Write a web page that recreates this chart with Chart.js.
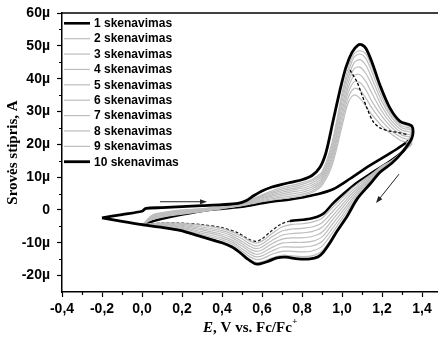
<!DOCTYPE html>
<html>
<head>
<meta charset="utf-8">
<script src="https://cdn.jsdelivr.net/npm/chart.js@4.4.1/dist/chart.umd.min.js"></script>
<style>
  html, body { margin: 0; padding: 0; background: #fff; }
  #wrap { width: 438px; height: 337px; }
</style>
</head>
<body>
<div id="wrap"><canvas id="cvChart" width="438" height="337"></canvas></div>
<script>
// scan names, legend order
const scanLabels = ['1 skenavimas', '2 skenavimas', '3 skenavimas', '4 skenavimas', '5 skenavimas',
                    '6 skenavimas', '7 skenavimas', '8 skenavimas', '9 skenavimas', '10 skenavimas'];

// 1st scan (inner black loop), E in V, I in µA
const scan1E = [0.00, 0.05, 0.10, 0.20, 0.30, 0.40, 0.50, 0.58, 0.655, 0.74, 0.80, 0.87, 0.955, 1.04, 1.12, 1.20, 1.28, 1.34, 1.35,
                1.34, 1.305, 1.24, 1.155, 1.075, 1.015, 0.955, 0.905, 0.84, 0.74, 0.69, 0.64, 0.60, 0.57, 0.53, 0.48, 0.40, 0.30, 0.19, 0.10, 0.00];
const scan1I = [-4.5, -3.5, -2.7, -1.4, -0.3, 0.4, 1.0, 1.8, 2.6, 3.2, 3.8, 4.7, 6.3, 9.5, 12.8, 15.8, 18.8, 21.5, 23.0,
                20.5, 17.8, 14.8, 11.5, 8.3, 5.3, 2.0, -1.2, -2.7, -3.4, -4.5, -6.8, -8.8, -9.6, -8.8, -7.0, -5.4, -4.5, -4.0, -4.0, -4.5];

// scans 2..9 share one potential grid (forward to 1.35 V, then back to 0 V)
const greyE = [0.00, 0.05, 0.10, 0.20, 0.30, 0.40, 0.50, 0.55, 0.60, 0.65, 0.70, 0.75, 0.80, 0.85, 0.90, 0.95, 1.00, 1.03, 1.06, 1.09, 1.12, 1.15, 1.20, 1.25, 1.30, 1.35,
               1.30, 1.25, 1.20, 1.15, 1.10, 1.05, 1.00, 0.95, 0.90, 0.85, 0.80, 0.75, 0.70, 0.65, 0.60, 0.57, 0.54, 0.50, 0.45, 0.40, 0.30, 0.20, 0.10, 0.00];
const scan2I = [-4.5, -3.0, -2.2, -1.3, -0.5, 0.4, 1.3, 1.9, 2.5, 3.0, 3.4, 3.8, 4.3, 5.3, 7.5, 13.5, 25.5, 32.5, 35.0, 34.0, 31.5, 29.0, 25.5, 23.0, 21.0, 20.2,
                17.6, 15.1, 13.4, 11.0, 8.9, 6.6, 3.6, 0.6, -2.5, -3.7, -4.2, -4.4, -5.2, -7.2, -9.5, -10.1, -9.5, -8.1, -6.7, -5.7, -4.7, -4.1, -4.0, -4.5];
const scan3I = [-4.5, -2.8, -2.0, -1.1, -0.4, 0.5, 1.4, 2.1, 2.8, 3.4, 3.9, 4.3, 4.8, 5.8, 8.1, 14.5, 27.0, 34.0, 37.0, 36.5, 34.0, 31.0, 27.0, 24.0, 22.0, 21.0,
                17.6, 15.0, 13.2, 10.7, 8.4, 5.8, 2.6, -0.7, -3.9, -5.2, -5.6, -5.8, -6.4, -8.2, -10.4, -11.0, -10.3, -8.8, -7.3, -6.3, -5.2, -4.4, -4.2, -4.5];
const scan4I = [-4.6, -2.6, -1.8, -0.9, -0.2, 0.6, 1.5, 2.3, 3.1, 3.8, 4.4, 4.9, 5.4, 6.4, 8.7, 15.5, 28.5, 35.5, 39.0, 38.8, 36.5, 33.0, 28.5, 25.0, 22.8, 21.8,
                17.5, 14.9, 13.0, 10.4, 7.8, 5.0, 1.5, -2.0, -5.3, -6.6, -7.0, -7.2, -7.7, -9.3, -11.3, -11.8, -11.1, -9.6, -7.9, -6.8, -5.7, -4.7, -4.4, -4.6];
const scan5I = [-4.6, -2.4, -1.6, -0.7, 0.0, 0.7, 1.6, 2.5, 3.4, 4.2, 4.9, 5.5, 6.0, 7.0, 9.3, 16.5, 30.0, 37.0, 41.0, 41.2, 39.0, 35.5, 30.0, 26.0, 23.5, 22.5,
                17.5, 14.8, 12.8, 10.1, 7.3, 4.2, 0.5, -3.2, -6.8, -8.1, -8.5, -8.5, -8.9, -10.3, -12.2, -12.6, -11.9, -10.3, -8.5, -7.4, -6.1, -5.0, -4.5, -4.6];
const scan6I = [-4.7, -2.2, -1.4, -0.5, 0.1, 0.8, 1.7, 2.7, 3.7, 4.6, 5.4, 6.0, 6.6, 7.6, 9.9, 17.5, 31.5, 38.5, 43.0, 43.5, 41.5, 38.0, 31.5, 27.0, 24.3, 23.3,
                17.5, 14.7, 12.6, 9.7, 6.8, 3.4, -0.6, -4.5, -8.2, -9.6, -9.9, -9.9, -10.1, -11.4, -13.1, -13.5, -12.7, -11.0, -9.2, -8.0, -6.6, -5.3, -4.7, -4.7];
const scan7I = [-4.7, -2.0, -1.2, -0.3, 0.2, 0.9, 1.8, 2.9, 4.0, 5.0, 5.9, 6.5, 7.2, 8.2, 10.5, 18.5, 33.0, 40.0, 44.8, 45.8, 44.0, 40.0, 33.0, 28.0, 25.0, 24.0,
                17.4, 14.6, 12.45, 9.4, 6.3, 2.6, -1.7, -5.8, -9.6, -11.0, -11.3, -11.3, -11.3, -12.5, -14.0, -14.3, -13.5, -11.8, -9.8, -8.6, -7.1, -5.6, -4.9, -4.7];
const scan8I = [-4.8, -1.8, -1.0, -0.1, 0.3, 1.0, 1.9, 3.1, 4.3, 5.4, 6.4, 7.0, 7.8, 8.8, 11.0, 19.5, 34.5, 41.5, 46.5, 47.5, 46.0, 42.0, 34.3, 28.8, 25.6, 24.5,
                17.4, 14.5, 12.3, 9.1, 5.8, 1.8, -2.7, -7.1, -11.1, -12.5, -12.8, -12.6, -12.6, -13.5, -14.9, -15.1, -14.3, -12.5, -10.4, -9.1, -7.6, -5.9, -5.0, -4.8];
const scan9I = [-4.8, -1.6, -0.8, 0.0, 0.4, 1.1, 2.0, 3.3, 4.6, 5.8, 6.9, 7.5, 8.3, 9.3, 11.6, 20.5, 35.5, 43.0, 47.5, 48.5, 47.5, 43.5, 35.5, 29.5, 26.3, 24.8,
                17.3, 14.4, 12.1, 8.8, 5.3, 1.0, -3.8, -8.4, -12.5, -14.0, -14.2, -14.0, -13.8, -14.6, -15.8, -16.0, -15.1, -13.2, -11.0, -9.7, -8.1, -6.2, -5.2, -4.8];

// 10th scan (outer black loop, reaches -0.2 V)
const scan10E = [-0.20, -0.10, 0.00, 0.02, 0.10, 0.20, 0.30, 0.40, 0.48, 0.52, 0.56, 0.60, 0.65, 0.70, 0.75, 0.80, 0.85, 0.89, 0.92, 0.955, 0.99, 1.02, 1.05, 1.08, 1.10, 1.12, 1.15, 1.19, 1.24, 1.29, 1.35,
                 1.35, 1.30, 1.25, 1.19, 1.14, 1.075, 1.025, 0.975, 0.94, 0.905, 0.88, 0.84, 0.78, 0.72, 0.675, 0.625, 0.59, 0.565, 0.525, 0.49, 0.45, 0.40, 0.355, 0.28, 0.19, 0.10, 0.00, -0.10, -0.20];
const scan10I = [-2.4, -1.4, -0.4, 0.5, 0.7, 1.0, 1.3, 1.6, 2.0, 2.8, 4.4, 5.8, 7.0, 7.8, 8.5, 9.2, 10.5, 13.0, 17.5, 27.0, 36.5, 43.5, 48.0, 50.2, 50.3, 49.2, 45.0, 38.0, 31.0, 27.0, 25.5,
                 22.0, 17.5, 14.3, 11.5, 7.9, 3.3, -2.0, -6.5, -10.0, -13.0, -14.3, -14.9, -14.9, -14.4, -14.6, -15.8, -16.4, -16.4, -14.8, -13.0, -11.3, -10.0, -9.2, -7.8, -6.2, -5.3, -4.5, -3.5, -2.4];

// dark broken trace on the falling side of the anodic peak
const traceE = [1.04, 1.075, 1.10, 1.125, 1.155, 1.19, 1.24, 1.28, 1.325];
const traceI = [42.6, 39.0, 35.0, 31.0, 27.0, 25.0, 24.0, 23.6, 23.0];

// scan direction arrows (start -> head), data units
const arrowFwdE = [0.09, 0.325];
const arrowFwdI = [2.5, 2.5];
const arrowBackE = [1.285, 1.17];
const arrowBackI = [10.9, 2.1];

// axes
const xTicks = [-0.4, -0.2, 0.0, 0.2, 0.4, 0.6, 0.8, 1.0, 1.2, 1.4];
const xTickLabels = ['-0,4', '-0,2', '0,0', '0,2', '0,4', '0,6', '0,8', '1,0', '1,2', '1,4'];
const xMinor = [-0.3, -0.1, 0.1, 0.3, 0.5, 0.7, 0.9, 1.1, 1.3];
const yTicks = [-20, -10, 0, 10, 20, 30, 40, 50, 60];
const yTickLabels = ['-20µ', '-10µ', '0', '10µ', '20µ', '30µ', '40µ', '50µ', '60µ'];
const yMinor = [-15, -5, 5, 15, 25, 35, 45, 55];

const yTitle = 'Srovės stipris, A';
const xTitleItalic = 'E';
const xTitleRest = ', V vs. Fc/Fc';
const xTitleSup = '+';

const GREY = '#bdbdbd';
const BLACK = '#000000';

function toPoints(es, is) {
    return es.map((e, k) => ({ x: e, y: is[k] }));
}

// scan 1 back sweep below 0.74 V is mostly hidden under the grey scans: draw it thin and broken
const scan1Turn = scan1E.indexOf(Math.max(...scan1E));
const scan1Hidden = ctx => ctx.p0DataIndex > scan1Turn && ctx.p0.parsed.x <= 0.74;

const greyScans = [scan2I, scan3I, scan4I, scan5I, scan6I, scan7I, scan8I, scan9I];

const datasets = [];
datasets.push({
    label: scanLabels[0], data: toPoints(scan1E, scan1I), borderColor: BLACK, borderWidth: 2.6, order: 3, inLegend: true,
    segment: {
        borderDash: ctx => scan1Hidden(ctx) ? [3, 2] : undefined,
        borderWidth: ctx => scan1Hidden(ctx) ? 1.3 : undefined,
        borderColor: ctx => scan1Hidden(ctx) ? '#222' : undefined
    }
});
greyScans.forEach((arr, k) => {
    datasets.push({ label: scanLabels[k + 1], data: toPoints(greyE, arr), borderColor: GREY, borderWidth: 1.2, order: 2, inLegend: true });
});
datasets.push({ label: scanLabels[9], data: toPoints(scan10E, scan10I), borderColor: BLACK, borderWidth: 2.8, order: 0, inLegend: true });
datasets.push({ label: '', data: toPoints(traceE, traceI), borderColor: BLACK, borderWidth: 1.3, borderDash: [3, 2], order: 1, inLegend: false });

datasets.forEach(d => {
    d.showLine = true;
    d.pointRadius = 0;
    d.fill = false;
    d.tension = 0.3;
});

// legend inside the plot, top-left
const insideLegend = {
    id: 'insideLegend',
    afterDraw(chart, args, opts) {
        const ctx = chart.ctx;
        ctx.save();
        ctx.font = 'bold 12px "Liberation Sans", Arial, sans-serif';
        ctx.textBaseline = 'middle';
        ctx.textAlign = 'left';
        let row = 0;
        chart.data.datasets.forEach(d => {
            if (!d.inLegend) return;
            const y = opts.y0 + row * opts.gap;
            ctx.strokeStyle = d.borderColor;
            ctx.lineWidth = d.borderWidth;
            ctx.setLineDash([]);
            ctx.beginPath();
            ctx.moveTo(opts.x0, y);
            ctx.lineTo(opts.x1, y);
            ctx.stroke();
            ctx.fillStyle = '#000';
            ctx.fillText(d.label, opts.textX, y + 0.5);
            row++;
        });
        ctx.restore();
    }
};

// frame top line, minor ticks, arrows, x title
const decor = {
    id: 'decor',
    afterDraw(chart) {
        const { ctx, chartArea: a } = chart;
        const x = chart.scales.x, y = chart.scales.y;
        ctx.save();
        ctx.strokeStyle = '#000';
        ctx.lineWidth = 1.5;
        ctx.beginPath();
        ctx.moveTo(a.left, a.top);
        ctx.lineTo(a.right, a.top);
        ctx.stroke();

        ctx.lineWidth = 1.2;
        ctx.beginPath();
        xMinor.forEach(v => {
            const px = Math.round(x.getPixelForValue(v)) + 0.5;
            ctx.moveTo(px, a.bottom);
            ctx.lineTo(px, a.bottom + 3);
        });
        yMinor.forEach(v => {
            const py = Math.round(y.getPixelForValue(v)) + 0.5;
            ctx.moveTo(a.left, py);
            ctx.lineTo(a.left - 3, py);
        });
        ctx.stroke();

        function arrow(es, is) {
            const x0 = x.getPixelForValue(es[0]), y0 = y.getPixelForValue(is[0]);
            const x1 = x.getPixelForValue(es[1]), y1 = y.getPixelForValue(is[1]);
            const ang = Math.atan2(y1 - y0, x1 - x0);
            ctx.strokeStyle = '#222';
            ctx.lineWidth = 1;
            ctx.beginPath();
            ctx.moveTo(x0, y0);
            ctx.lineTo(x1 - 4 * Math.cos(ang), y1 - 4 * Math.sin(ang));
            ctx.stroke();
            ctx.fillStyle = '#222';
            ctx.beginPath();
            ctx.moveTo(x1, y1);
            ctx.lineTo(x1 - 7 * Math.cos(ang) + 2.5 * Math.sin(ang), y1 - 7 * Math.sin(ang) - 2.5 * Math.cos(ang));
            ctx.lineTo(x1 - 7 * Math.cos(ang) - 2.5 * Math.sin(ang), y1 - 7 * Math.sin(ang) + 2.5 * Math.cos(ang));
            ctx.closePath();
            ctx.fill();
        }
        arrow(arrowFwdE, arrowFwdI);
        arrow(arrowBackE, arrowBackI);

        // x axis title with italic E and superscript +
        const fItal = 'italic bold 15px "Liberation Serif", "Times New Roman", serif';
        const fBold = 'bold 15px "Liberation Serif", "Times New Roman", serif';
        const fSup = 'bold 9px "Liberation Serif", "Times New Roman", serif';
        ctx.font = fItal; const w1 = ctx.measureText(xTitleItalic).width;
        ctx.font = fBold; const w2 = ctx.measureText(xTitleRest).width;
        ctx.font = fSup; const w3 = ctx.measureText(xTitleSup).width;
        let tx = (a.left + a.right) / 2 - (w1 + w2 + w3) / 2;
        const ty = 328;
        ctx.fillStyle = '#000';
        ctx.textBaseline = 'middle';
        ctx.textAlign = 'left';
        ctx.font = fItal; ctx.fillText(xTitleItalic, tx, ty); tx += w1;
        ctx.font = fBold; ctx.fillText(xTitleRest, tx, ty); tx += w2;
        ctx.font = fSup; ctx.fillText(xTitleSup, tx + 0.5, ty - 6);
        ctx.restore();
    }
};

const tickFont = { family: '"Liberation Sans", Arial, sans-serif', size: 14, weight: 'bold' };

new Chart(document.getElementById('cvChart'), {
    type: 'scatter',
    data: { datasets: datasets },
    options: {
        responsive: false,
        animation: false,
        events: [],
        layout: { padding: { top: 13, right: 0, left: 0, bottom: 0 } },
        plugins: {
            legend: { display: false },
            tooltip: { enabled: false },
            insideLegend: { x0: 64, x1: 90, textX: 94, y0: 23.3, gap: 15.38 }
        },
        scales: {
            x: {
                type: 'linear',
                min: -0.4,
                max: 1.48,
                afterBuildTicks: s => { s.ticks = xTicks.map(v => ({ value: v })); },
                afterFit: s => { s.height = 45; s.paddingLeft = 0; s.paddingRight = 0; },
                ticks: {
                    callback: (v, i) => xTickLabels[i],
                    font: tickFont,
                    color: '#000',
                    padding: 4,
                    autoSkip: false,
                    maxRotation: 0
                },
                grid: { drawOnChartArea: false, drawTicks: true, tickLength: 5, tickWidth: 1.2, tickColor: '#000' },
                border: { display: true, color: '#000', width: 1.5 }
            },
            y: {
                type: 'linear',
                min: -25,
                max: 60,
                afterBuildTicks: s => { s.ticks = yTicks.map(v => ({ value: v })); },
                afterFit: s => { s.width = 62; s.paddingTop = 0; s.paddingBottom = 0; },
                ticks: {
                    callback: (v, i) => yTickLabels[i],
                    font: tickFont,
                    color: '#000',
                    padding: 7,
                    autoSkip: false
                },
                grid: { drawOnChartArea: false, drawTicks: true, tickLength: 5, tickWidth: 1.2, tickColor: '#000' },
                border: { display: true, color: '#000', width: 1.5 },
                title: {
                    display: true,
                    text: yTitle,
                    color: '#000',
                    font: { family: '"Liberation Serif", "Times New Roman", serif', size: 15, weight: 'bold' },
                    padding: { top: 4, bottom: 0 }
                }
            }
        }
    },
    plugins: [insideLegend, decor]
});
</script>
</body>
</html>
